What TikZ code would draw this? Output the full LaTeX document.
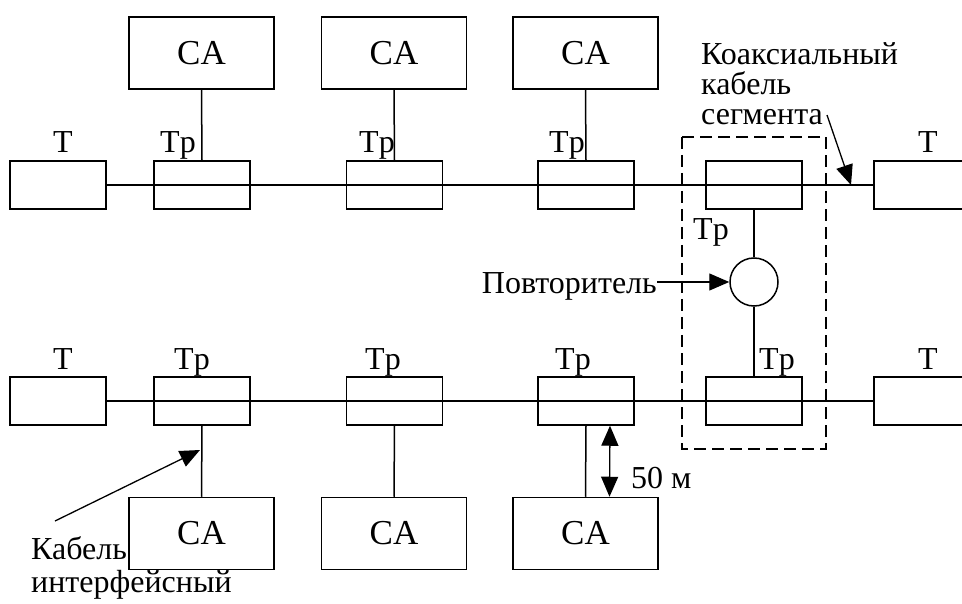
\documentclass[tikz,border=0pt]{standalone}
\usepackage{fontspec}
\setmainfont{Liberation Serif}
\usetikzlibrary{arrows.meta,calc}
\begin{document}
\begin{tikzpicture}[x=1pt,y=-1pt,
  stbox/.style={draw,line width=1.5pt,minimum width=145pt,minimum height=72pt,inner sep=0pt,font=\fontsize{35}{37}\selectfont},
  tbox/.style={draw,line width=1.5pt,minimum width=96pt,minimum height=48pt,inner sep=0pt},
  lbl/.style={anchor=base,inner sep=0pt,font=\fontsize{32}{34}\selectfont},
  wire/.style={line width=1.3pt},
  tip/.style={-{Triangle[length=20pt,width=17pt]}},
  ]
\clip (0,0) rectangle (962,604);
\fill[white] (0,0) rectangle (962,604);
% top stations
\node[stbox] (ca1) at (201.5,53) {CA};
\node[stbox] (ca2) at (394,53) {CA};
\node[stbox] (ca3) at (585.5,53) {CA};
% bottom stations
\node[stbox] (cb1) at (201.5,533.5) {CA};
\node[stbox] (cb2) at (394,533.5) {CA};
\node[stbox] (cb3) at (585.5,533.5) {CA};
% top row boxes
\node[tbox] (tl1) at (58,185) {};
\node[tbox] (ta1) at (202,185) {};
\node[tbox] (ta2) at (394.5,185) {};
\node[tbox] (ta3) at (586,185) {};
\node[tbox] (ta4) at (754,185) {};
\node[tbox] (tr1) at (922,185) {};
% bottom row boxes
\node[tbox] (tl2) at (58,401) {};
\node[tbox] (tb1) at (202,401) {};
\node[tbox] (tb2) at (394.5,401) {};
\node[tbox] (tb3) at (586,401) {};
\node[tbox] (tb4) at (754,401) {};
\node[tbox] (tr2) at (922,401) {};
% repeater
\node[draw,circle,line width=1.5pt,minimum size=48pt,inner sep=0pt] (rep) at (754,282) {};
% dashed segment
\draw[line width=1.5pt,dash pattern=on 12pt off 6pt] (682,137) rectangle (826,449);
% bus lines
\draw[wire] (tl1.east) -- (tr1.west);
\draw[wire] (tl2.east) -- (tr2.west);
% drops
\draw[line width=1.5pt] (ca1.south) -- (ta1.north);
\draw[line width=1.5pt] (ca2.south) -- (ta2.north);
\draw[line width=1.5pt] (ca3.south) -- (ta3.north);
\draw[line width=1.5pt] (tb1.south) -- (cb1.north);
\draw[line width=1.5pt] (tb2.south) -- (cb2.north);
\draw[line width=1.5pt] (tb3.south) -- (cb3.north);
\draw[line width=1.5pt] (ta4.south) -- (rep.north);
\draw[line width=1.5pt] (rep.south) -- (tb4.north);
% labels top row
\node[lbl] (lt1) at (63,153) {T};
\node[lbl] (lp1) at (178,153) {Tp};
\node[lbl] (lp2) at (377,153) {Tp};
\node[lbl] (lp3) at (567,153) {Tp};
\node[lbl] (lt2) at (928,153) {T};
\node[lbl] (lp4) at (711,240) {Tp};
% labels bottom row
\node[lbl] (lt3) at (63,369) {T};
\node[lbl] (lp5) at (192,369) {Tp};
\node[lbl] (lp6) at (383,369) {Tp};
\node[lbl] (lp7) at (573,369) {Tp};
\node[lbl] (lp8) at (777,369) {Tp};
\node[lbl] (lt4) at (928,369) {T};
% coax label
\node[anchor=base west,inner sep=0pt,align=left,font=\fontsize{32}{30}\selectfont] (coax) at (701,125) {Коаксиальный\\кабель\\сегмента};
\coordinate (cxs) at (827,115);
\coordinate (cxe) at (851,185);
\draw[wire,tip] (cxs) -- (cxe);
% repeater label
\node[anchor=base east,inner sep=0pt,font=\fontsize{32}{34}\selectfont] (rl) at (657,294) {Повторитель};
\draw[wire,tip] (rl.east |- rep.west) -- (rep.west);
% interface cable label
\node[anchor=base west,inner sep=0pt,align=left,font=\fontsize{32}{33}\selectfont] (ifc) at (31,592) {Кабель\\интерфейсный};
\coordinate (ifs) at (55,521);
\coordinate (ife) at (200,450);
\draw[wire,tip] (ifs) -- (ife);
% 50 m
\draw[wire,{Triangle[length=20pt,width=17pt]}-{Triangle[length=20pt,width=17pt]}] ([xshift=24pt]tb3.south) -- ([xshift=24pt]cb3.north);
\node[anchor=base west,inner sep=0pt,font=\fontsize{32}{34}\selectfont] (len) at (631,488) {50 м};
\end{tikzpicture}
\end{document}
